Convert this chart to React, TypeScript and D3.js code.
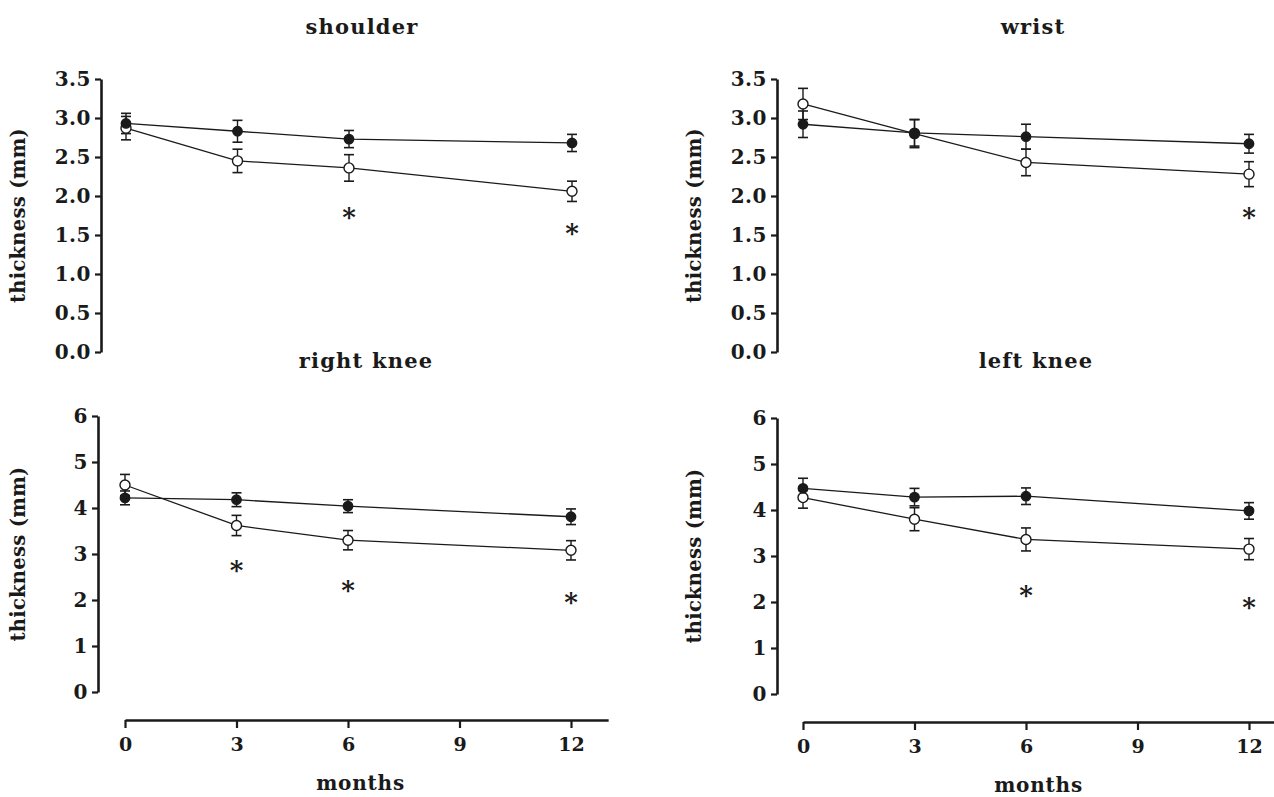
import React, { useEffect, useRef } from "react";
import * as d3 from "d3";

const months = [0, 3, 6, 12];
const xTicks = [0, 3, 6, 9, 12];

const shoulderFilled = [2.93, 2.83, 2.73, 2.68];
const shoulderFilledErr = [0.13, 0.14, 0.11, 0.11];
const shoulderOpen = [2.87, 2.45, 2.36, 2.06];
const shoulderOpenErr = [0.15, 0.15, 0.17, 0.13];
const shoulderStars = [null, null, 1.79, 1.59];

const wristFilled = [2.92, 2.81, 2.76, 2.67];
const wristFilledErr = [0.17, 0.17, 0.16, 0.12];
const wristOpen = [3.18, 2.8, 2.43, 2.28];
const wristOpenErr = [0.2, 0.18, 0.17, 0.16];
const wristStars = [null, null, null, 1.79];

const rightKneeFilled = [4.22, 4.18, 4.04, 3.81];
const rightKneeFilledErr = [0.15, 0.15, 0.14, 0.17];
const rightKneeOpen = [4.5, 3.62, 3.3, 3.08];
const rightKneeOpenErr = [0.23, 0.22, 0.21, 0.21];
const rightKneeStars = [null, 2.76, 2.33, 2.07];

const leftKneeFilled = [4.47, 4.28, 4.3, 3.98];
const leftKneeFilledErr = [0.22, 0.19, 0.18, 0.18];
const leftKneeOpen = [4.27, 3.8, 3.36, 3.15];
const leftKneeOpenErr = [0.23, 0.25, 0.25, 0.23];
const leftKneeStars = [null, null, 2.26, 2.0];

const topYTicks = [0, 0.5, 1.0, 1.5, 2.0, 2.5, 3.0, 3.5];
const bottomYTicks = [0, 1, 2, 3, 4, 5, 6];

const FONT = "'DejaVu Serif', 'Liberation Serif', serif";
const INK = "#1a1a1a";

type Panel = {
  title: string;
  filled: number[];
  filledErr: number[];
  open: number[];
  openErr: number[];
  stars: (number | null)[];
  yDomain: [number, number];
  yRange: [number, number];
  yTicks: number[];
  yFmt: (v: number) => string;
  axisX: number;
  xRange: [number, number];
  titleX: number;
  titleY: number;
  labelX: number;
  xAxisY: number | null;
};

const panels: Panel[] = [
  {
    title: "shoulder",
    filled: shoulderFilled, filledErr: shoulderFilledErr,
    open: shoulderOpen, openErr: shoulderOpenErr, stars: shoulderStars,
    yDomain: [0, 3.5], yRange: [352, 79], yTicks: topYTicks, yFmt: d3.format(".1f"),
    axisX: 101, xRange: [126, 572], titleX: 362, titleY: 34, labelX: 25, xAxisY: null,
  },
  {
    title: "wrist",
    filled: wristFilled, filledErr: wristFilledErr,
    open: wristOpen, openErr: wristOpenErr, stars: wristStars,
    yDomain: [0, 3.5], yRange: [352, 79], yTicks: topYTicks, yFmt: d3.format(".1f"),
    axisX: 777, xRange: [803, 1249], titleX: 1033, titleY: 34, labelX: 701, xAxisY: null,
  },
  {
    title: "right knee",
    filled: rightKneeFilled, filledErr: rightKneeFilledErr,
    open: rightKneeOpen, openErr: rightKneeOpenErr, stars: rightKneeStars,
    yDomain: [0, 6], yRange: [692, 416], yTicks: bottomYTicks, yFmt: d3.format("d"),
    axisX: 98, xRange: [125, 571], titleX: 366, titleY: 368, labelX: 25, xAxisY: 720,
  },
  {
    title: "left knee",
    filled: leftKneeFilled, filledErr: leftKneeFilledErr,
    open: leftKneeOpen, openErr: leftKneeOpenErr, stars: leftKneeStars,
    yDomain: [0, 6], yRange: [694, 418], yTicks: bottomYTicks, yFmt: d3.format("d"),
    axisX: 777, xRange: [803, 1249], titleX: 1036, titleY: 368, labelX: 701, xAxisY: 722,
  },
];

export default function App() {
  const ref = useRef<SVGSVGElement>(null);

  useEffect(() => {
    const svg = d3.select(ref.current);
    svg.selectAll("*").remove();
    svg.append("rect").attr("width", 1274).attr("height", 797).attr("fill", "#fff");

    panels.forEach((p) => {
      const g = svg.append("g");
      const x = d3.scaleLinear().domain([0, 12]).range(p.xRange);
      const y = d3.scaleLinear().domain(p.yDomain).range(p.yRange);

      // title
      g.append("text")
        .attr("x", p.titleX).attr("y", p.titleY)
        .attr("text-anchor", "middle")
        .attr("font-family", FONT).attr("font-weight", "bold").attr("font-size", 21)
        .attr("letter-spacing", 1.2)
        .attr("fill", INK)
        .text(p.title);

      // y axis
      const yAxis = d3.axisLeft(y).tickValues(p.yTicks).tickFormat((d) => p.yFmt(d as number))
        .tickSize(6).tickSizeOuter(0).tickPadding(4);
      const ya = g.append("g").attr("transform", `translate(${p.axisX},0)`).call(yAxis);
      ya.select(".domain").attr("stroke", INK).attr("stroke-width", 2.6);
      ya.selectAll(".tick line").attr("stroke", INK).attr("stroke-width", 2.2);
      ya.selectAll(".tick text")
        .attr("font-family", FONT).attr("font-weight", "bold").attr("font-size", 20)
        .attr("letter-spacing", 0.5)
        .attr("fill", INK);

      // y label
      const midY = (p.yRange[0] + p.yRange[1]) / 2;
      g.append("text")
        .attr("transform", `translate(${p.labelX},${midY}) rotate(-90)`)
        .attr("text-anchor", "middle")
        .attr("font-family", FONT).attr("font-weight", "bold").attr("font-size", 19.5)
        .attr("letter-spacing", 0.3)
        .attr("fill", INK)
        .text("thickness (mm)");

      // x axis
      if (p.xAxisY !== null) {
        const xs = d3.scaleLinear().domain([0, 13]).range([p.xRange[0], x(13)]);
        const xAxis = d3.axisBottom(xs).tickValues(xTicks).tickFormat(d3.format("d"))
          .tickSize(8).tickSizeOuter(0).tickPadding(10);
        const xa = g.append("g").attr("transform", `translate(0,${p.xAxisY})`).call(xAxis);
        xa.select(".domain").attr("stroke", INK).attr("stroke-width", 2.6);
        xa.selectAll(".tick line").attr("stroke", INK).attr("stroke-width", 2.2);
        xa.selectAll(".tick text")
          .attr("font-family", FONT).attr("font-weight", "bold").attr("font-size", 19)
          .attr("fill", INK);
        g.append("text")
          .attr("x", (p.xRange[0] + x(13)) / 2 - 6).attr("y", p.xAxisY + 70)
          .attr("text-anchor", "middle")
          .attr("font-family", FONT).attr("font-weight", "bold").attr("font-size", 20)
          .attr("letter-spacing", 0.8)
          .attr("fill", INK)
          .text("months");
      }

      const line = d3.line<number>().x((_, i) => x(months[i])).y((d) => y(d));

      const drawSeries = (vals: number[], errs: number[], filled: boolean) => {
        g.append("path").datum(vals).attr("d", line)
          .attr("fill", "none").attr("stroke", INK).attr("stroke-width", 1.3);
        vals.forEach((v, i) => {
          const cx = x(months[i]);
          const e = errs[i];
          g.append("line").attr("x1", cx).attr("x2", cx).attr("y1", y(v - e)).attr("y2", y(v + e))
            .attr("stroke", INK).attr("stroke-width", 1.4);
          [v - e, v + e].forEach((w) => {
            g.append("line").attr("x1", cx - 5).attr("x2", cx + 5).attr("y1", y(w)).attr("y2", y(w))
              .attr("stroke", INK).attr("stroke-width", 1.6);
          });
        });
        return () => {
          vals.forEach((v, i) => {
            g.append("circle").attr("cx", x(months[i])).attr("cy", y(v)).attr("r", filled ? 4.7 : 5)
              .attr("fill", filled ? INK : "#fff")
              .attr("stroke", INK).attr("stroke-width", 1.4);
          });
        };
      };

      const dOpen = drawSeries(p.open, p.openErr, false);
      const dFilled = drawSeries(p.filled, p.filledErr, true);
      dOpen();
      dFilled();

      p.stars.forEach((s, i) => {
        if (s === null) return;
        g.append("text")
          .attr("x", x(months[i])).attr("y", y(s) + 14)
          .attr("text-anchor", "middle")
          .attr("font-family", FONT).attr("font-weight", "bold").attr("font-size", 26)
          .attr("fill", INK)
          .text("*");
      });
    });
  }, []);

  return (
    <svg
      ref={ref}
      width={1274}
      height={797}
      style={{ position: "absolute", left: 0, top: 0, display: "block" }}
    />
  );
}
